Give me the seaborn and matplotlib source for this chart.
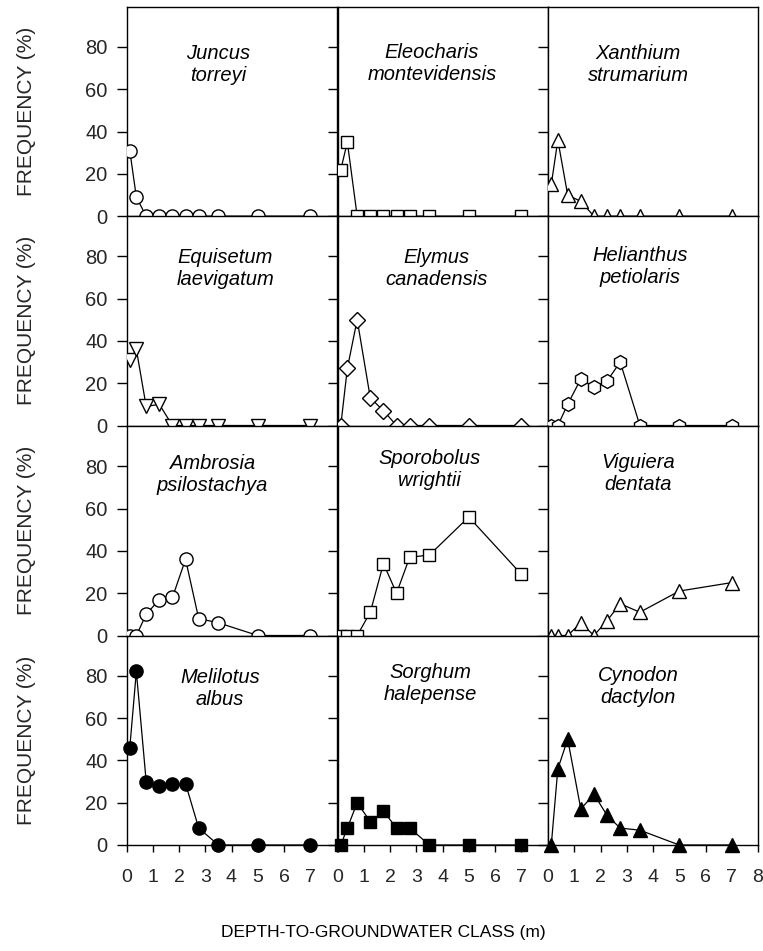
import matplotlib
matplotlib.use("Agg")
import matplotlib.pyplot as plt
import seaborn as sns
import pandas as pd

# Depth-to-groundwater class midpoints (m)
depth_class = [0.125, 0.375, 0.75, 1.25, 1.75, 2.25, 2.75, 3.5, 5, 7]

# Species frequency (%) by depth class
juncus_torreyi = [31, 9, 0, 0, 0, 0, 0, 0, 0, 0]
eleocharis_montevidensis = [22, 35, 0, 0, 0, 0, 0, 0, 0, 0]
xanthium_strumarium = [15, 36, 10, 7, 0, 0, 0, 0, 0, 0]
equisetum_laevigatum = [31, 36, 9, 10, 0, 0, 0, 0, 0, 0]
elymus_canadensis = [0, 27, 50, 13, 7, 0, 0, 0, 0, 0]
helianthus_petiolaris = [0, 0, 10, 22, 18, 21, 30, 0, 0, 0]
ambrosia_psilostachya = [0, 0, 10, 17, 18, 36, 8, 6, 0, 0]
sporobolus_wrightii = [0, 0, 0, 11, 34, 20, 37, 38, 56, 29]
viguiera_dentata = [0, 0, 0, 6, 0, 7, 15, 11, 21, 25]
melilotus_albus = [46, 82, 30, 28, 29, 29, 8, 0, 0, 0]
sorghum_halepense = [0, 8, 20, 11, 16, 8, 8, 0, 0, 0]
cynodon_dactylon = [0, 36, 50, 17, 24, 14, 8, 7, 0, 0]

species_names = [
    "Juncus\ntorreyi", "Eleocharis\nmontevidensis", "Xanthium\nstrumarium",
    "Equisetum\nlaevigatum", "Elymus\ncanadensis", "Helianthus\npetiolaris",
    "Ambrosia\npsilostachya", "Sporobolus\nwrightii", "Viguiera\ndentata",
    "Melilotus\nalbus", "Sorghum\nhalepense", "Cynodon\ndactylon",
]
species_values = [
    juncus_torreyi, eleocharis_montevidensis, xanthium_strumarium,
    equisetum_laevigatum, elymus_canadensis, helianthus_petiolaris,
    ambrosia_psilostachya, sporobolus_wrightii, viguiera_dentata,
    melilotus_albus, sorghum_halepense, cynodon_dactylon,
]

y_ticks = [0, 20, 40, 60, 80]
x_ticks = [0, 1, 2, 3, 4, 5, 6, 7, 8]

# Marker style per panel: (marker, face colour, size)
styles = [
    ("o", "white", 9.5), ("s", "white", 8.5), ("^", "white", 10),
    ("v", "white", 10), ("D", "white", 8), ("h", "white", 10),
    ("o", "white", 9.5), ("s", "white", 9), ("^", "white", 10),
    ("o", "black", 9.5), ("s", "black", 8.5), ("^", "black", 10),
]
# Species label centre in axes fraction
label_pos = [
    (0.435, 0.725), (0.45, 0.73), (0.43, 0.725),
    (0.47, 0.75), (0.47, 0.75), (0.44, 0.76),
    (0.41, 0.77), (0.44, 0.79), (0.43, 0.775),
    (0.445, 0.745), (0.44, 0.77), (0.43, 0.755),
]

sns.set_style("ticks")
plt.rcParams["font.family"] = ["Liberation Sans", "DejaVu Sans"]

W, H = 763, 951
fig = plt.figure(figsize=(W / 100, H / 100), dpi=100)

col_left = [126.5, 337.5, 548.0]
col_w = 210.0
row_top = [6.7, 216.0, 426.0, 635.5]
row_h = 209.5

for i, (name, vals) in enumerate(zip(species_names, species_values)):
    r, c = divmod(i, 3)
    ax = fig.add_axes([col_left[c] / W, 1 - (row_top[r] + row_h) / H,
                       col_w / W, row_h / H])
    ax.set_facecolor("white")
    marker, face, ms = styles[i]
    df = pd.DataFrame({"depth": depth_class, "freq": vals})
    sns.lineplot(data=df, x="depth", y="freq", ax=ax, estimator=None,
                 sort=False, color="black", linewidth=0.9,
                 marker=marker, markersize=ms, markerfacecolor=face,
                 markeredgecolor="black", markeredgewidth=1.0,
                 clip_on=(r < 3), zorder=3)
    ax.set_xlim(0, 8)
    ax.set_ylim(0, 99)
    ax.set_xlabel("")
    ax.set_ylabel("")
    for s in ax.spines.values():
        s.set_visible(True)
        s.set_color("black")
        s.set_linewidth(1.0)

    ax.set_yticks(y_ticks)
    ax.tick_params(axis="y", direction="out", length=7.5, width=1.0,
                   color="black", labelsize=14.5, pad=6,
                   left=True, right=False, labelleft=(c == 0))
    ax.set_xticks(x_ticks)
    if r == 3:
        labels = [str(t) for t in x_ticks]
        if c < 2:
            labels[-1] = ""
        ax.set_xticklabels(labels)
        ax.tick_params(axis="x", direction="out", length=5, width=1.0,
                       color="black", labelsize=14, pad=12,
                       bottom=True, top=False, labelbottom=True)
    else:
        ax.tick_params(axis="x", bottom=False, top=False,
                       labelbottom=False)

    if c == 0:
        ax.set_ylabel("FREQUENCY (%)", fontsize=15)
        ax.yaxis.set_label_coords(-0.43, 0.5)

    lx, ly = label_pos[i]
    ax.text(lx, ly, name, transform=ax.transAxes, ha="center", va="center",
            fontsize=14.5, style="italic", linespacing=1.2, color="black")

fig.text(383 / W, 1 - 933 / H, "DEPTH-TO-GROUNDWATER CLASS (m)",
         ha="center", va="center", fontsize=12.5, color="black")

fig.savefig("out.png", dpi=100, facecolor="white")
